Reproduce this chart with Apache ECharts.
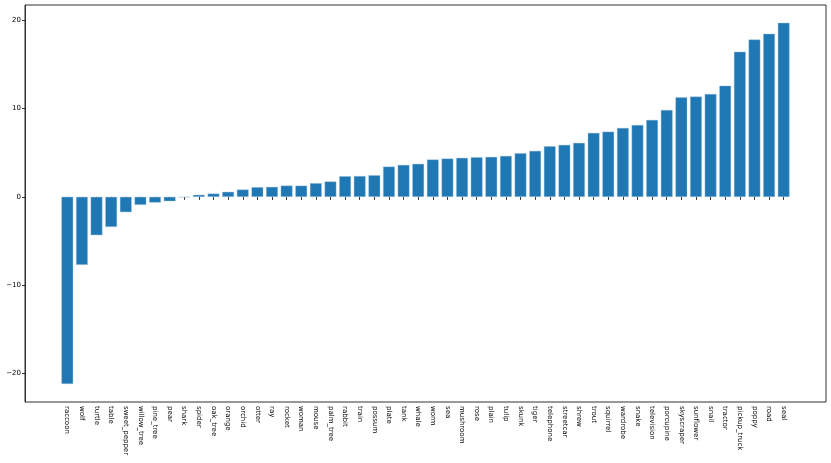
<!DOCTYPE html>
<html>
<head>
<meta charset="utf-8">
<script src="https://cdn.jsdelivr.net/npm/echarts@6/dist/echarts.min.js"></script>
<style>html,body{margin:0;padding:0;background:#fff;}#chart{width:831px;height:463px;}</style>
</head>
<body>
<div id="chart"></div>
<script>
const categories = ["raccoon","wolf","turtle","table","sweet_pepper","willow_tree","pine_tree","pear","shark","spider","oak_tree","orange","orchid","otter","ray","rocket","woman","mouse","palm_tree","rabbit","train","possum","plate","tank","whale","worm","sea","mushroom","rose","plain","tulip","skunk","tiger","telephone","streetcar","shrew","trout","squirrel","wardrobe","snake","television","porcupine","skyscraper","sunflower","snail","tractor","pickup_truck","poppy","road","seal"];
const values = [-21.2,-7.7,-4.34,-3.4,-1.73,-0.9,-0.64,-0.49,-0.05,0.23,0.37,0.57,0.83,1.1,1.13,1.28,1.27,1.55,1.74,2.34,2.36,2.45,3.43,3.62,3.74,4.23,4.34,4.42,4.49,4.53,4.64,4.95,5.21,5.74,5.89,6.12,7.25,7.39,7.81,8.15,8.72,9.85,11.28,11.36,11.66,12.6,16.45,17.83,18.48,19.72];
const yTicks = [-20,-10,0,10,20];
const yMin = -23.25, yMax = 21.75;

const chart = echarts.init(document.getElementById('chart'), null, {renderer:'canvas'});
const fmt = v => (v < 0 ? '\u2212' + Math.abs(v) : String(v));
chart.setOption({
  animation:false,
  backgroundColor:'#ffffff',
  grid:[
    {left:60, right:40, top:5, bottom:61, containLabel:false},
    {left:25, right:5, top:5, bottom:61, show:true, borderColor:'#333', borderWidth:1, backgroundColor:'transparent', containLabel:false}
  ],
  xAxis:[
    {type:'category', gridIndex:0, data:categories, boundaryGap:true,
     axisLine:{show:false},
     axisTick:{show:true, alignWithLabel:true, length:3, lineStyle:{color:'#000', width:0.8}},
     axisLabel:{interval:0, rotate:-90, fontSize:7, color:'#000', fontFamily:'DejaVu Sans', margin:4}},
    {type:'value', gridIndex:1, min:0, max:1, show:false}
  ],
  yAxis:[
    {type:'value', gridIndex:0, min:yMin, max:yMax, show:false, splitLine:{show:false}},
    {type:'value', gridIndex:1, min:yMin, max:yMax,
     axisLine:{show:true, lineStyle:{color:'#333', width:1}},
     axisTick:{show:true, length:3, customValues: yTicks, lineStyle:{color:'#000', width:0.8}},
     splitLine:{show:false},
     axisLabel:{show:true, fontSize:7, color:'#000', fontFamily:'DejaVu Sans', margin:4,
       customValues: yTicks, formatter: fmt}}
  ],
  series:[
    {type:'bar', xAxisIndex:0, yAxisIndex:0, data:values, barWidth:'80%',
     itemStyle:{color:'#1f77b4', borderColor:'#9cc2df', borderWidth:0.4}}
  ]
});
</script>
</body>
</html>
